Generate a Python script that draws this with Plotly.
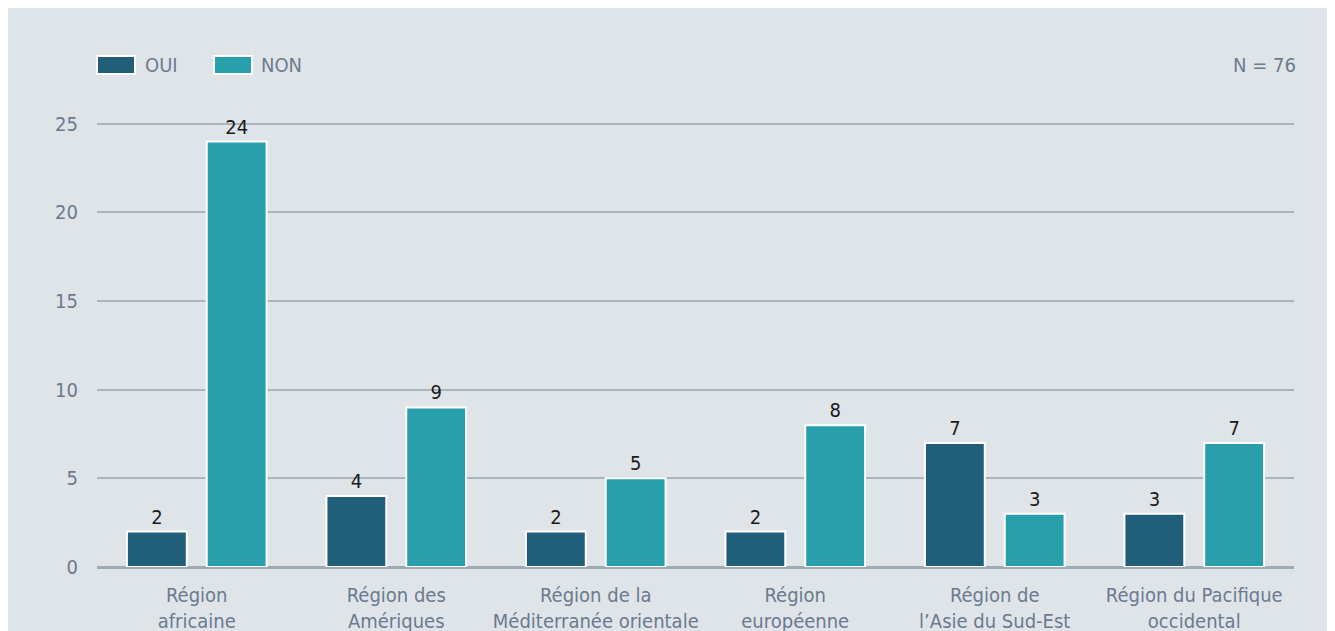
import plotly.graph_objects as go

# data
CATEGORIES = ["Région<br>africaine", "Région des<br>Amériques",
              "Région de la<br>Méditerranée orientale", "Région<br>européenne",
              "Région de<br>l’Asie du Sud-Est", "Région du Pacifique<br>occidental"]
OUI = [2, 4, 2, 2, 7, 3]
NON = [24, 9, 5, 8, 3, 7]
SERIES = ["OUI", "NON"]
N_TOTAL = 76
Y_TICKS = [0, 5, 10, 15, 20, 25]

# the html page has an 8px body margin, so the figure sits 8px in from the window
OFF = 8
W, H = 1335 - OFF, 631 - OFF
PLOT_BOTTOM = 567  # window y of the zero line
ML, MR, MT, MB = 97 - OFF, 1335 - 1294, 115 - OFF, H - (PLOT_BOTTOM - OFF)
PW, PH = W - ML - MR, H - MT - MB

BG = "#dfe4e9"
C_OUI = "#215e7a"
C_NON = "#289fab"
GREY_TXT = "#6b7a8e"
GRID = "#a9b4bf"
FONT = "DejaVu Sans Condensed, DejaVu Sans, sans-serif"


def px(x):  # window pixel -> paper x
    return (x - OFF - ML) / PW


def py(y):  # window pixel (from top) -> paper y
    return (H - MB - (y - OFF)) / PH


fig = go.Figure()
for name, vals, col in [(SERIES[0], OUI, C_OUI), (SERIES[1], NON, C_NON)]:
    fig.add_trace(go.Bar(
        x=CATEGORIES, y=vals, name=name,
        marker=dict(color=col, line=dict(color="white", width=2)),
        text=[str(v) for v in vals], textposition="outside",
        textfont=dict(size=20, color="#1a1a1a", family=FONT),
        cliponaxis=False, showlegend=False,
    ))

shapes = [
    # grey panel behind the whole chart (thin white frame on top/left)
    dict(type="rect", xref="paper", yref="paper", layer="below",
         x0=px(6), x1=px(1400), y0=py(700), y1=py(9),
         fillcolor=BG, line=dict(width=0)),
]
annotations = []
# hand-drawn legend: wide swatches with white border
for (x0, x1, tx), name, col in zip([(97, 135, 143), (214, 252, 259)],
                                   SERIES, [C_OUI, C_NON]):
    shapes.append(dict(type="rect", xref="paper", yref="paper",
                       x0=px(x0), x1=px(x1), y0=py(74), y1=py(56),
                       fillcolor=col, line=dict(color="white", width=2)))
    annotations.append(dict(xref="paper", yref="paper", x=px(tx), y=py(65),
                            xanchor="left", yanchor="middle", showarrow=False,
                            text=name, font=dict(size=20, color=GREY_TXT, family=FONT)))
annotations.append(dict(xref="paper", yref="paper", x=px(1298), y=py(65),
                        xanchor="right", yanchor="middle", showarrow=False,
                        text=f"N = {N_TOTAL}",
                        font=dict(size=20, color=GREY_TXT, family=FONT)))

fig.update_layout(
    width=W, height=H,
    margin=dict(l=ML, r=MR, t=MT, b=MB),
    paper_bgcolor=BG, plot_bgcolor="rgba(0,0,0,0)",
    barmode="group", bargap=0.2, bargroupgap=0.25,
    font=dict(family=FONT, color=GREY_TXT, size=20),
    shapes=shapes, annotations=annotations,
    xaxis=dict(showgrid=False, showline=False, ticks="", automargin=False,
               tickfont=dict(size=20, color=GREY_TXT), ticklabelstandoff=14),
    yaxis=dict(range=[0, 25.5], tickvals=Y_TICKS, showline=False, ticks="",
               automargin=False, gridcolor=GRID, gridwidth=1.5,
               zeroline=True, zerolinecolor="#9eaab5", zerolinewidth=3,
               tickfont=dict(size=20, color=GREY_TXT), ticklabelstandoff=18),
)

fig.write_html("out.html")
